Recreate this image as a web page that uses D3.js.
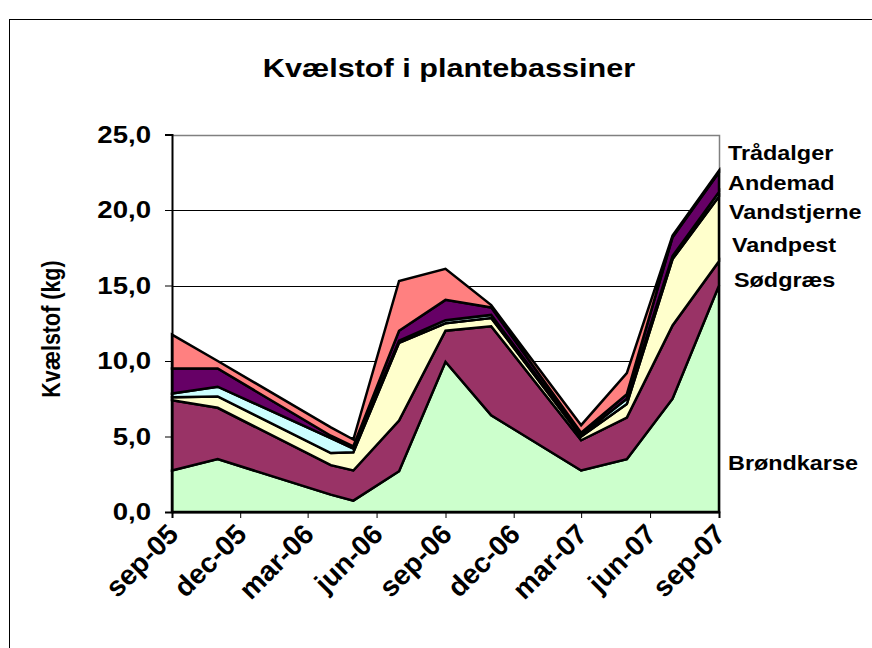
<!DOCTYPE html>
<html>
<head>
<meta charset="utf-8">
<script src="https://cdn.jsdelivr.net/npm/d3@7"></script>
<style>
  body { margin: 0; background: #fff; }
  text { font-family: "Liberation Sans", Arial, sans-serif; font-weight: bold; fill: #000; }
</style>
</head>
<body>
<div id="chart-area"></div>
<script>
// sampling dates (year-month)
var dates = ["2005-09", "2005-11", "2006-04", "2006-05", "2006-07", "2006-09",
	"2006-11", "2007-03", "2007-05", "2007-07", "2007-09"];

// kg nitrogen per plant group
var broendkarse = [2.75, 3.5, 1.15, 0.75, 2.7, 9.95, 6.4, 2.75, 3.5, 7.5, 15.0];
var soedgraes   = [4.65, 3.4, 1.95, 2.0, 3.35, 2.05, 5.9, 2.0, 2.75, 4.85, 1.6];
var vandpest    = [0.2, 0.75, 0.8, 1.2, 5.15, 0.5, 0.55, 0.25, 0.9, 4.4, 4.3];
var vandstjerne = [0.25, 0.65, 1.0, 0.25, 0.15, 0.2, 0.2, 0.1, 0.35, 0.2, 0.3];
var andemad     = [1.65, 1.2, 0.15, 0.15, 0.65, 1.35, 0.5, 0.15, 0.3, 1.25, 1.3];
var traadalger  = [2.25, 0.5, 0.55, 0.45, 3.3, 2.05, 0.15, 0.5, 1.4, 0.1, 0.1];

var seriesNames = ["Brøndkarse", "Sødgræs", "Vandpest", "Vandstjerne", "Andemad", "Trådalger"];
var seriesValues = [broendkarse, soedgraes, vandpest, vandstjerne, andemad, traadalger];
var seriesColors = ["#CCFFCC", "#993366", "#FFFFCC", "#CCFFFF", "#660066", "#FF8080"];

var yTicks = [0, 5, 10, 15, 20, 25];
var xTickDates = ["2005-09", "2005-12", "2006-03", "2006-06", "2006-09",
	"2006-12", "2007-03", "2007-06", "2007-09"];
var monthNames = ["jan", "feb", "mar", "apr", "maj", "jun", "jul", "aug", "sep", "okt", "nov", "dec"];

// label placement (left x, baseline y) for the series names at the right
var labelPos = [[728, 470], [734, 287], [732, 252], [729, 219], [728, 190], [728, 160]];

var width = 872;
var height = 648;
var sx = 1.2; // the source picture is stretched sideways, text follows

var plot = { left: 172, right: 719, top: 134.5, bottom: 512 };

var parseMonth = d3.timeParse("%Y-%m");

var table = dates.map(function (d, i) {
	var row = { date: parseMonth(d) };
	seriesNames.forEach(function (name, j) { row[name] = seriesValues[j][i]; });
	return row;
});

var svg = d3.select("#chart-area")
	.append("svg")
	.attr("width", width)
	.attr("height", height);

// chart border
svg.append("rect")
	.attr("x", 9.5)
	.attr("y", 19.5)
	.attr("width", 900)
	.attr("height", 700)
	.attr("fill", "none")
	.attr("stroke", "#000")
	.attr("stroke-width", 1);

var xScale = d3.scaleTime()
	.domain([parseMonth("2005-09"), parseMonth("2007-09")])
	.range([plot.left, plot.right]);

var yScale = d3.scaleLinear()
	.domain([0, 25])
	.range([plot.bottom, plot.top]);

function stretchedText(parent, x, y, rot) {
	return parent.append("text")
		.attr("transform", "translate(" + x + "," + y + ") scale(" + sx + ",1) rotate(" + (rot || 0) + ")");
}

// title
stretchedText(svg, 449, 77)
	.attr("text-anchor", "middle")
	.attr("font-size", "25.5px")
	.text("Kvælstof i plantebassiner");

// gridlines
svg.append("g")
	.selectAll("line")
	.data(yTicks.filter(d => d > 0))
	.enter().append("line")
	.attr("x1", plot.left)
	.attr("x2", plot.right)
	.attr("y1", d => Math.round(yScale(d)) + 0.5)
	.attr("y2", d => Math.round(yScale(d)) + 0.5)
	.attr("stroke", "#000")
	.attr("stroke-width", 1);

// plot area frame (top and right in grey)
svg.append("path")
	.attr("d", "M" + plot.left + "," + (Math.round(plot.top) + 0.5) + "H" + (plot.right + 0.5) + "V" + plot.bottom)
	.attr("fill", "none")
	.attr("stroke", "#808080")
	.attr("stroke-width", 1.5);

// stacked areas
var stack = d3.stack().keys(seriesNames);
var layers = stack(table);

var area = d3.area()
	.x(d => xScale(d.data.date))
	.y0(d => yScale(d[0]))
	.y1(d => yScale(d[1]));

svg.append("g")
	.selectAll("path")
	.data(layers)
	.enter().append("path")
	.attr("d", area)
	.attr("fill", (d, i) => seriesColors[i])
	.attr("stroke", "#000")
	.attr("stroke-width", 2.5)
	.attr("stroke-linejoin", "miter");

// axes
var xAxis = d3.axisBottom(xScale)
	.tickValues(xTickDates.map(parseMonth))
	.tickSize(6)
	.tickFormat("");

var yAxis = d3.axisLeft(yScale)
	.tickValues(yTicks)
	.tickSize(7)
	.tickFormat("");

var xAxisG = svg.append("g")
	.attr("transform", "translate(0," + plot.bottom + ")")
	.call(xAxis);

var yAxisG = svg.append("g")
	.attr("transform", "translate(" + plot.left + ",0)")
	.call(yAxis);

[xAxisG, yAxisG].forEach(function (g) {
	g.select(".domain").attr("stroke", "#000").attr("stroke-width", 2);
	g.selectAll(".tick line").attr("stroke", "#000").attr("stroke-width", 1);
});

// y tick labels
yTicks.forEach(function (v) {
	stretchedText(svg, 151, yScale(v) + 8)
		.attr("text-anchor", "end")
		.attr("font-size", "23px")
		.text(d3.format(".1f")(v).replace(".", ","));
});

// x tick labels, slanted
xTickDates.forEach(function (d) {
	var date = parseMonth(d);
	svg.append("text")
		.attr("transform", "translate(" + (xScale(date) + 8) + ",536) rotate(-45)")
		.attr("text-anchor", "end")
		.attr("font-size", "28px")
		.text(monthNames[date.getMonth()] + "-" + d3.timeFormat("%y")(date));
});

// y axis title
stretchedText(svg, 60, 329, -90)
	.attr("text-anchor", "middle")
	.attr("font-size", "21.5px")
	.text("Kvælstof (kg)");

// series names
seriesNames.forEach(function (name, i) {
	stretchedText(svg, labelPos[i][0], labelPos[i][1])
		.attr("font-size", "19.5px")
		.text(name);
});
</script>
</body>
</html>
